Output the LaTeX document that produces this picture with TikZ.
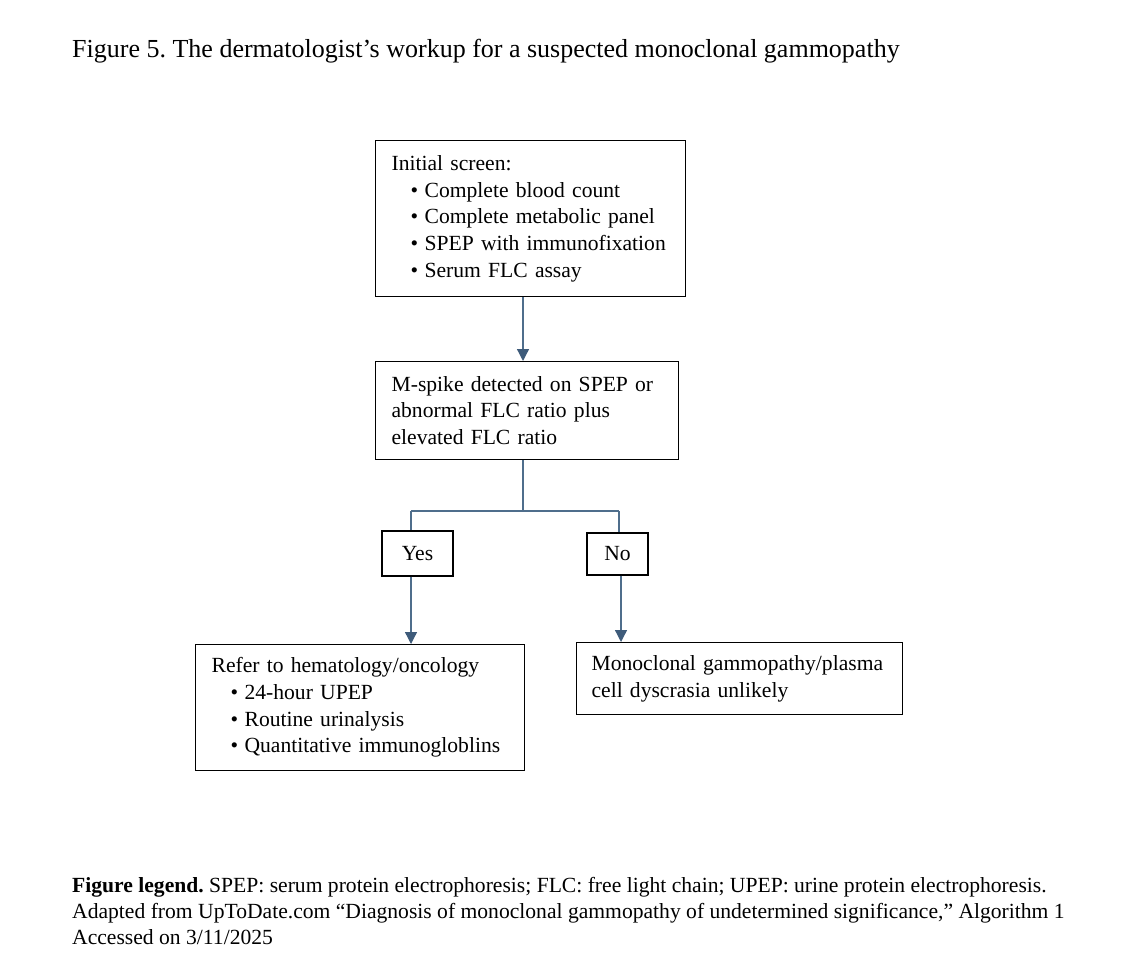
\documentclass[tikz,border=0pt]{standalone}
\usepackage{fontspec}
\setmainfont{Liberation Serif}
\usetikzlibrary{arrows.meta}
\definecolor{conn}{HTML}{4F6E8C}
\definecolor{tipc}{HTML}{3E5B7A}
\newcommand\bul[1]{\hspace*{19pt}\makebox[14pt][l]{\textbullet}#1}
\frenchspacing
\begin{document}
\begin{tikzpicture}[x=1pt,y=-1pt,
  boxtext/.style={draw=black,line width=1.2pt,align=left,inner ysep=0pt,
    font=\fontsize{21.6}{26.7}\selectfont},
  smallbox/.style={draw=black,line width=1.2pt,inner sep=0pt,
    font=\fontsize{21.6}{26.7}\selectfont},
  link/.style={draw=conn,line width=1.3pt},
  arr/.style={link,-{Triangle[width=12pt,length=12pt,fill=tipc,color=tipc]}},
  plain/.style={inner sep=0pt,anchor=west,align=left}]
\useasboundingbox (0,0) rectangle (1142,979);
\node[plain,font=\fontsize{26}{30}\selectfont] (title) at (72,51)
  {Figure 5. The dermatologist’s workup for a suspected monoclonal gammopathy};
\node[boxtext,anchor=north west,inner xsep=16pt,text width=278pt,minimum height=156pt] (screen) at (375,140)
  {Initial screen:\\
   \bul{Complete blood count}\\
   \bul{Complete metabolic panel}\\
   \bul{SPEP with immunofixation}\\
   \bul{Serum FLC assay}};
\node[boxtext,anchor=north west,inner xsep=16pt,text width=271pt,minimum height=98pt] (spike) at (375,361)
  {M-spike detected on SPEP or\\abnormal FLC ratio plus\\elevated FLC ratio};
\node[smallbox,minimum width=71pt,minimum height=45pt] (yes) at (417.5,553.5) {Yes};
\node[smallbox,minimum width=61pt,minimum height=42pt] (no) at (617.5,554) {No};
\node[boxtext,anchor=north west,inner xsep=16pt,text width=297pt,minimum height=126pt] (refer) at (195,644)
  {Refer to hematology/oncology\\
   \bul{24-hour UPEP}\\
   \bul{Routine urinalysis}\\
   \bul{Quantitative immunogloblins}};
\node[boxtext,anchor=north west,inner xsep=15pt,text width=296pt,minimum height=72pt] (mono) at (576,642)
  {\mbox{Monoclonal gammopathy/plasma}\\cell dyscrasia unlikely};
\coordinate (split) at (523,511);
\coordinate (lc) at (411,511);
\coordinate (rc) at (619,511);
\draw[arr] (screen.south -| split) -- (spike.north -| split);
\draw[link] (spike.south -| split) -- (split);
\draw[link] (lc) -- (rc);
\draw[link] (lc) -- (yes.north -| lc);
\draw[link] (rc) -- (no.north -| rc);
\draw[arr] (yes.south -| lc) -- (refer.north -| lc);
\draw[arr] (no.south -| 621,0) -- (mono.north -| 621,0);
\node[plain,font=\fontsize{21.6}{26}\selectfont,anchor=north west] (legend) at (72,877)
  {\textbf{Figure legend.} SPEP: serum protein electrophoresis; FLC: free light chain; UPEP: urine protein electrophoresis.\\
   Adapted from UpToDate.com “Diagnosis of monoclonal gammopathy of undetermined significance,” Algorithm 1\\
   Accessed on 3/11/2025};
\end{tikzpicture}
\end{document}
